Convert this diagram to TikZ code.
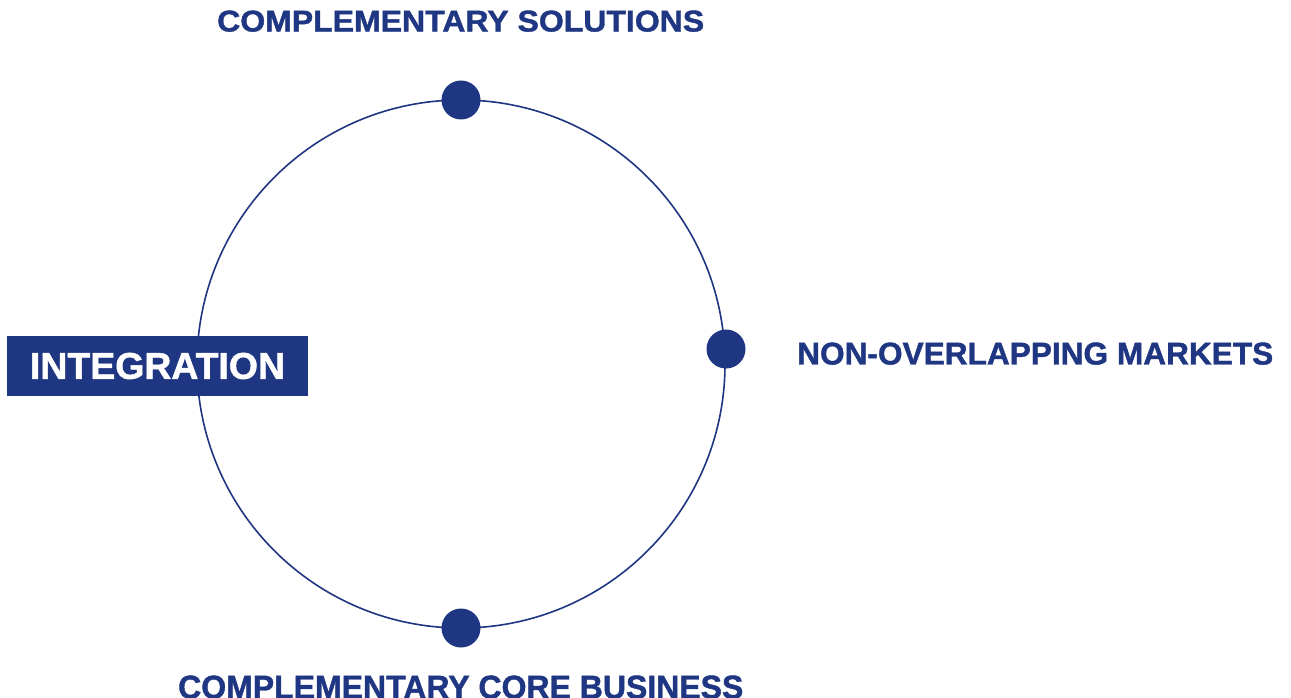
\documentclass[tikz,border=0pt]{standalone}
\usepackage{fontspec}
\setmainfont{Liberation Sans}
\newfontfamily\heavyfont{Liberation Sans Bold}[FakeBold=1.3]
\usepackage{graphicx}
\usetikzlibrary{calc}
\definecolor{navy}{HTML}{1F3682}
% set heavy caps text to a given width and cap height
\newcommand{\capsfit}[3]{\resizebox{#1}{#2}{\heavyfont #3}}
\begin{document}
\begin{tikzpicture}[x=1pt,y=-1pt,
  dot/.style={circle,fill=navy,inner sep=0pt,minimum size=39pt},
  label/.style={inner sep=0pt,text=navy,anchor=south west},
  tag/.style={rectangle,fill=navy,text=white,inner sep=0pt,
              minimum width=301pt,minimum height=60pt}]
  \useasboundingbox (0,0) rectangle (1291,698);
  \clip (0,0) rectangle (1291,698);
  \fill[white] (0,0) rectangle (1291,698);

  % ring
  \coordinate (c) at (461,364);
  \draw[navy,line width=1.6pt] (c) circle[radius=264];

  % markers on the ring
  \node[dot] (top) at ($(c)+(0,-264)$) {};
  \node[dot] (right) at (726,349) {};
  \node[dot] (bottom) at ($(c)+(0,264)$) {};

  % captions
  \node[label] (solutions) at (217,32) {\capsfit{487pt}{21pt}{COMPLEMENTARY SOLUTIONS}};
  \node[label] (markets) at (797,365) {\capsfit{476pt}{22pt}{NON-OVERLAPPING MARKETS}};
  \node[label] (core) at (178,699) {\capsfit{565pt}{23pt}{COMPLEMENTARY CORE BUSINESS}};

  % integration tag
  \node[tag] (integration) at (157.5,366) {\capsfit{255pt}{26pt}{INTEGRATION}};
\end{tikzpicture}
\end{document}
